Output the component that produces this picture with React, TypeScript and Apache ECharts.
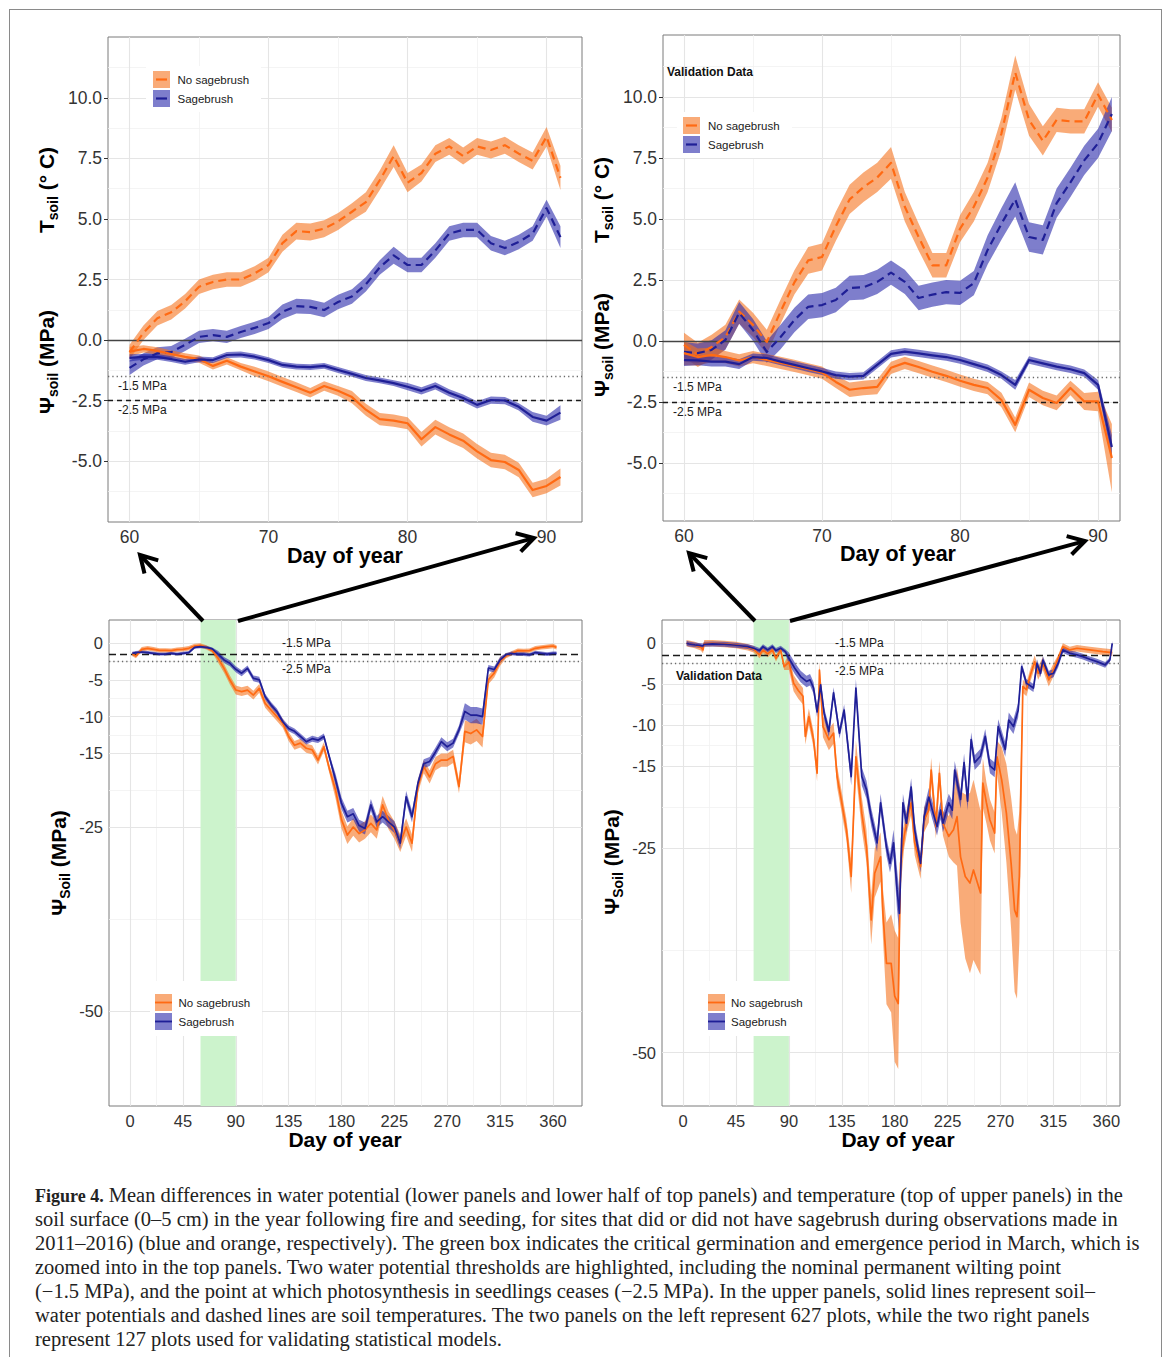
import React, { useEffect, useRef } from 'react';
import * as echarts from 'echarts';

// ---------------- colours ----------------
const ORANGE_LINE = '#FF6A13';
const BLUE_LINE = '#1F1F96';
const ORANGE_BAND = 'rgba(245,115,30,0.6)';
const BLUE_BAND = 'rgba(40,40,170,0.6)';

// ---------------- tick labels ----------------
const TOP_X_TICKS = [60, 70, 80, 90];
const TOP_X_MINOR = [65, 75, 85];
const TOP_Y_TICKS = [-5, -2.5, 0, 2.5, 5, 7.5, 10];
const TOP_Y_MINOR = [-6.25, -3.75, -1.25, 1.25, 3.75, 6.25, 8.75, 11.25];
const BOT_X_TICKS = [0, 45, 90, 135, 180, 225, 270, 315, 360];
const BOT_X_MINOR = [22.5, 67.5, 112.5, 157.5, 202.5, 247.5, 292.5, 337.5];
const BOT_Y_TICKS = [0, -5, -10, -15, -25, -50];
const BOT_Y_MINOR = [-2.5, -7.5, -12.5, -20, -37.5];

// ---------------- top panels (day 60-91) ----------------
const topDays = [60, 61, 62, 63, 64, 65, 66, 67, 68, 69, 70, 71, 72, 73, 74, 75, 76, 77, 78, 79, 80, 81, 82, 83, 84, 85, 86, 87, 88, 89, 90, 91];

// top-left (627 plots)
const tlTempNo = [-0.5, 0.3, 0.9, 1.15, 1.6, 2.2, 2.4, 2.5, 2.5, 2.75, 3.1, 4.0, 4.5, 4.46, 4.6, 4.9, 5.3, 5.7, 6.6, 7.6, 6.5, 6.9, 7.7, 8.0, 7.6, 8.0, 7.85, 8.05, 7.7, 7.4, 8.4, 6.7];
const tlTempNoHw = [0.3, 0.3, 0.3, 0.3, 0.3, 0.3, 0.3, 0.3, 0.3, 0.3, 0.3, 0.35, 0.35, 0.35, 0.35, 0.35, 0.35, 0.4, 0.4, 0.45, 0.4, 0.35, 0.35, 0.35, 0.35, 0.35, 0.35, 0.35, 0.35, 0.35, 0.4, 0.5];
const tlTempSage = [-1.15, -0.8, -0.55, -0.5, -0.2, 0.13, 0.2, 0.13, 0.33, 0.5, 0.7, 1.17, 1.4, 1.37, 1.24, 1.57, 1.8, 2.3, 3.0, 3.5, 3.1, 3.1, 3.7, 4.4, 4.55, 4.55, 4.0, 3.8, 4.05, 4.4, 5.45, 4.25];
const tlTempSageHw = [0.3, 0.25, 0.25, 0.25, 0.25, 0.25, 0.25, 0.25, 0.25, 0.25, 0.25, 0.3, 0.3, 0.3, 0.3, 0.3, 0.3, 0.3, 0.3, 0.35, 0.3, 0.3, 0.3, 0.3, 0.3, 0.3, 0.3, 0.3, 0.3, 0.3, 0.35, 0.45];
const tlWpNo = [-0.48, -0.37, -0.45, -0.58, -0.7, -0.79, -1.07, -0.86, -1.1, -1.3, -1.5, -1.73, -1.95, -2.18, -1.9, -2.1, -2.36, -2.88, -3.27, -3.33, -3.44, -4.1, -3.6, -3.9, -4.16, -4.6, -4.96, -5.04, -5.37, -6.2, -6.03, -5.66];
const tlWpNoHw = [0.2, 0.15, 0.15, 0.15, 0.15, 0.15, 0.15, 0.15, 0.15, 0.2, 0.2, 0.2, 0.2, 0.2, 0.2, 0.2, 0.25, 0.25, 0.25, 0.25, 0.25, 0.3, 0.3, 0.3, 0.3, 0.3, 0.3, 0.3, 0.3, 0.3, 0.3, 0.35];
const tlWpSage = [-0.74, -0.7, -0.7, -0.79, -0.9, -0.8, -0.83, -0.62, -0.6, -0.69, -0.83, -1.03, -1.1, -1.12, -1.07, -1.24, -1.4, -1.57, -1.67, -1.78, -1.93, -2.1, -1.9, -2.18, -2.4, -2.68, -2.48, -2.5, -2.76, -3.18, -3.33, -3.0];
const tlWpSageHw = [0.15, 0.12, 0.12, 0.12, 0.12, 0.12, 0.12, 0.12, 0.12, 0.12, 0.12, 0.12, 0.12, 0.12, 0.12, 0.12, 0.12, 0.12, 0.12, 0.12, 0.15, 0.15, 0.15, 0.15, 0.15, 0.15, 0.15, 0.15, 0.15, 0.2, 0.2, 0.3];

// top-right (validation, 127 plots)
const trTempNo = [-0.16, -0.57, -0.25, 0.16, 1.2, 0.66, -0.04, 1.2, 2.4, 3.3, 3.44, 4.7, 5.8, 6.3, 6.7, 7.3, 5.5, 4.26, 3.1, 3.1, 4.6, 5.5, 6.7, 8.5, 11.0, 9.06, 8.2, 9.06, 9.0, 9.0, 10.1, 9.06];
const trTempNoHw = [0.5, 0.5, 0.5, 0.5, 0.5, 0.5, 0.5, 0.5, 0.5, 0.55, 0.55, 0.6, 0.6, 0.6, 0.6, 0.65, 0.6, 0.55, 0.5, 0.5, 0.55, 0.6, 0.6, 0.65, 0.7, 0.65, 0.6, 0.5, 0.5, 0.5, 0.5, 0.5];
const trTempSage = [-0.45, -0.5, -0.37, 0.04, 1.15, 0.45, -0.45, 0.16, 0.86, 1.4, 1.47, 1.68, 2.17, 2.2, 2.42, 2.8, 2.42, 1.76, 1.9, 2.0, 1.97, 2.37, 3.73, 4.8, 5.8, 4.26, 4.14, 5.65, 6.5, 7.4, 8.1, 9.3];
const trTempSageHw = [0.4, 0.4, 0.4, 0.4, 0.45, 0.45, 0.45, 0.5, 0.5, 0.5, 0.5, 0.5, 0.5, 0.5, 0.5, 0.5, 0.5, 0.5, 0.5, 0.5, 0.5, 0.5, 0.6, 0.65, 0.7, 0.6, 0.6, 0.6, 0.6, 0.6, 0.6, 0.7];
const trWpNo = [-0.5, -0.66, -0.57, -0.66, -0.8, -0.66, -0.78, -0.9, -1.02, -1.16, -1.3, -1.68, -2.0, -1.93, -1.88, -1.1, -0.9, -1.07, -1.26, -1.43, -1.63, -1.8, -1.93, -2.42, -3.44, -2.0, -2.34, -2.54, -1.93, -2.48, -2.48, -4.8];
const trWpNoHw = [0.5, 0.35, 0.3, 0.25, 0.25, 0.25, 0.25, 0.25, 0.25, 0.25, 0.25, 0.25, 0.3, 0.3, 0.3, 0.25, 0.25, 0.25, 0.25, 0.25, 0.25, 0.25, 0.25, 0.3, 0.3, 0.3, 0.3, 0.3, 0.3, 0.35, 0.4, 1.4];
const trWpSage = [-0.78, -0.8, -0.85, -0.85, -0.95, -0.66, -0.7, -0.85, -0.98, -1.12, -1.25, -1.4, -1.46, -1.43, -0.98, -0.53, -0.44, -0.51, -0.59, -0.66, -0.78, -0.95, -1.12, -1.4, -1.8, -0.78, -0.92, -1.05, -1.16, -1.32, -1.8, -4.35];
const trWpSageHw = [0.25, 0.2, 0.2, 0.2, 0.2, 0.15, 0.15, 0.15, 0.15, 0.15, 0.15, 0.15, 0.15, 0.15, 0.15, 0.15, 0.15, 0.15, 0.15, 0.15, 0.15, 0.15, 0.15, 0.15, 0.2, 0.15, 0.15, 0.15, 0.15, 0.15, 0.2, 0.5];

// ---------------- bottom-left (whole year, 627 plots) ----------------
const blDays = [2, 5, 10, 15, 20, 25, 30, 35, 40, 45, 50, 55, 60, 65, 70, 75, 80, 85, 90, 95, 100, 105, 110, 115, 120, 125, 130, 135, 140, 145, 150, 155, 160, 165, 170, 175, 180, 185, 190, 195, 200, 205, 210, 215, 220, 225, 230, 235, 240, 245, 250, 255, 260, 265, 270, 275, 280, 285, 290, 295, 300, 305, 310, 315, 320, 325, 330, 335, 340, 345, 350, 355, 360, 363];
const blNo = [-1.5, -1.77, -0.86, -0.72, -0.86, -1.0, -1.0, -1.04, -0.9, -0.86, -0.72, -0.41, -0.32, -0.59, -1.04, -2.08, -3.44, -5.03, -6.39, -6.6, -6.4, -7.07, -6.16, -8.2, -9.1, -10.0, -10.9, -12.7, -13.9, -13.6, -14.3, -14.5, -15.9, -14.1, -17.3, -20.0, -24.0, -26.1, -25.0, -25.9, -25.4, -24.5, -25.4, -22.0, -24.1, -25.4, -27.2, -25.0, -27.2, -19.5, -16.8, -18.2, -16.4, -15.9, -15.9, -15.4, -19.5, -12.0, -12.3, -11.8, -12.7, -5.0, -4.1, -2.5, -1.77, -1.4, -1.04, -1.08, -1.04, -0.72, -0.59, -0.5, -0.41, -0.59];
const blNoHw = [0.3, 0.3, 0.3, 0.3, 0.3, 0.3, 0.3, 0.3, 0.3, 0.3, 0.3, 0.3, 0.3, 0.3, 0.3, 0.6, 0.6, 0.6, 0.6, 0.6, 0.6, 0.6, 0.6, 0.6, 0.6, 0.6, 0.6, 0.6, 0.6, 0.6, 0.6, 0.6, 0.6, 0.6, 0.6, 1.2, 1.2, 1.2, 1.2, 1.2, 1.2, 1.2, 1.2, 1.2, 1.2, 1.2, 1.2, 1.2, 1.2, 0.9, 0.9, 0.9, 0.9, 0.9, 0.9, 0.9, 0.9, 1.5, 1.5, 1.5, 1.5, 0.6, 0.6, 0.6, 0.3, 0.3, 0.3, 0.3, 0.3, 0.3, 0.3, 0.3, 0.3, 0.3];
const blSage = [-1.4, -1.3, -1.22, -1.3, -1.4, -1.5, -1.5, -1.4, -1.5, -1.4, -1.3, -0.59, -0.5, -0.59, -0.8, -1.5, -2.3, -2.76, -3.57, -4.1, -3.44, -4.8, -5.0, -7.3, -8.4, -9.3, -10.7, -11.6, -12.0, -12.7, -13.4, -13.0, -13.2, -12.7, -15.7, -18.6, -21.8, -23.6, -23.2, -24.8, -25.2, -22.0, -24.3, -23.6, -24.3, -25.0, -27.2, -20.9, -23.6, -19.1, -16.4, -16.1, -14.8, -13.4, -14.1, -13.6, -11.8, -9.3, -9.8, -9.8, -10.0, -3.4, -3.6, -2.3, -1.6, -1.4, -1.5, -1.5, -1.6, -1.3, -1.4, -1.5, -1.4, -1.4];
const blSageHw = [0.2, 0.2, 0.2, 0.2, 0.2, 0.2, 0.2, 0.2, 0.2, 0.2, 0.2, 0.2, 0.2, 0.2, 0.2, 0.4, 0.4, 0.4, 0.4, 0.4, 0.4, 0.4, 0.4, 0.4, 0.4, 0.4, 0.4, 0.4, 0.4, 0.4, 0.4, 0.4, 0.4, 0.4, 0.4, 0.8, 0.8, 0.8, 0.8, 0.8, 0.8, 0.8, 0.8, 0.8, 0.8, 0.8, 0.8, 0.8, 0.8, 0.6, 0.6, 0.6, 0.6, 0.6, 0.6, 0.6, 0.6, 1.1, 1.1, 1.1, 1.1, 0.4, 0.4, 0.4, 0.25, 0.25, 0.25, 0.25, 0.25, 0.25, 0.25, 0.25, 0.25, 0.25];

// ---------------- bottom-right (whole year, validation) ----------------
const brSageDays = [3, 5, 10, 15, 17, 18, 25, 35, 45, 55, 60, 65, 68, 72, 76, 79, 83, 87, 90, 95, 100, 105, 108, 111, 114, 117, 120, 124, 128, 133, 137, 143, 147, 152, 156, 160, 165, 168, 173, 176, 179, 182, 184, 187, 190, 194, 197, 202, 205, 209, 212, 216, 219, 221, 226, 229, 231, 236, 239, 242, 245, 248, 253, 257, 261, 265, 268, 274, 277, 281, 285, 288, 292, 298, 301, 304, 306, 311, 315, 319, 323, 329, 335, 340, 346, 352, 359, 363, 365];
const brSage = [-0.04, -0.12, -0.24, -0.33, -0.37, -0.16, -0.12, -0.16, -0.28, -0.45, -0.65, -0.93, -0.45, -0.85, -0.45, -0.93, -0.65, -1.06, -1.87, -3.09, -4.1, -4.7, -4.5, -5.5, -8.4, -5.1, -8.6, -10.8, -6.1, -11.0, -8.2, -16.3, -5.5, -16.3, -17.9, -21.2, -24.4, -19.5, -24.9, -26.9, -24.4, -30.1, -33.0, -19.5, -22.0, -17.6, -22.8, -26.9, -21.2, -18.8, -20.4, -22.4, -20.4, -22.0, -19.5, -20.4, -15.5, -19.1, -14.6, -19.3, -11.8, -14.6, -13.8, -11.4, -15.0, -15.5, -10.2, -13.0, -9.4, -10.2, -8.2, -2.9, -4.9, -5.5, -2.5, -3.7, -2.1, -3.9, -3.7, -2.5, -0.85, -1.26, -1.46, -1.67, -1.99, -2.28, -2.68, -2.07, -0.04];
const brSageHw = [0.3, 0.3, 0.3, 0.3, 0.3, 0.3, 0.3, 0.3, 0.3, 0.3, 0.3, 0.3, 0.3, 0.3, 0.3, 0.3, 0.3, 0.3, 0.7, 0.7, 0.7, 0.7, 0.7, 0.7, 0.7, 0.7, 0.7, 0.7, 0.7, 0.7, 0.7, 1.1, 1.1, 1.1, 1.1, 1.1, 1.1, 1.1, 1.1, 1.1, 1.6, 2.5, 2.5, 1.1, 1.1, 1.1, 1.1, 1.1, 1.1, 1.1, 1.1, 1.1, 1.1, 1.1, 1.1, 1.1, 1.1, 1.1, 1.1, 1.1, 0.9, 0.9, 0.9, 0.9, 0.9, 0.9, 0.9, 0.9, 0.9, 0.9, 0.9, 0.5, 0.5, 0.5, 0.5, 0.5, 0.5, 0.5, 0.5, 0.5, 0.35, 0.35, 0.35, 0.35, 0.35, 0.35, 0.35, 0.3, 0.3];
const brNoDays = [3, 10, 15, 17, 18, 25, 35, 45, 55, 60, 65, 68, 72, 76, 79, 83, 86, 90, 94, 98, 102, 104, 107, 111, 114, 116, 119, 124, 128, 131, 134, 139, 143, 147, 152, 156, 160, 163, 168, 170, 173, 177, 180, 183, 185, 188, 191, 194, 197, 202, 205, 209, 211, 215, 218, 221, 226, 230, 233, 236, 240, 244, 247, 253, 255, 258, 261, 265, 267, 271, 275, 279, 282, 284, 286, 289, 292, 295, 299, 302, 306, 311, 315, 319, 323, 329, 335, 346, 357, 365];
const brNo = [-0.04, -0.24, -0.53, -0.85, -0.04, -0.04, -0.12, -0.24, -0.53, -0.77, -1.46, -0.85, -1.34, -0.85, -1.87, -0.85, -2.9, -2.3, -4.9, -5.8, -6.5, -11.4, -9.0, -11.8, -15.9, -3.3, -10.2, -11.8, -11.0, -16.3, -18.7, -22.8, -28.5, -13.9, -20.8, -24.8, -33.8, -28.1, -26.1, -33.0, -39.1, -39.1, -43.1, -44.0, -26.9, -23.6, -21.2, -19.5, -24.4, -27.3, -21.6, -20.4, -15.5, -22.4, -15.9, -22.0, -23.6, -22.8, -21.2, -26.1, -28.5, -29.3, -27.7, -30.5, -17.1, -19.5, -21.6, -23.2, -13.9, -16.7, -20.8, -26.9, -32.6, -33.4, -28.5, -5.3, -5.7, -4.1, -2.3, -3.7, -2.5, -4.5, -3.3, -1.87, -0.45, -0.85, -0.65, -0.85, -1.06, -1.18];
const brNoHw = [0.4, 0.4, 0.4, 0.4, 0.4, 0.4, 0.4, 0.4, 0.4, 0.4, 0.4, 0.4, 0.4, 0.4, 0.4, 0.4, 0.4, 1.0, 1.0, 1.0, 1.0, 1.0, 1.0, 1.0, 1.0, 1.0, 1.3, 1.3, 1.3, 1.3, 1.3, 1.3, 2.0, 2.0, 2.0, 2.0, 3.0, 3.0, 3.0, 3.0, 5.0, 6.0, 8.0, 8.0, 3.0, 1.5, 1.5, 1.5, 1.5, 1.5, 1.5, 1.5, 1.5, 1.5, 1.5, 1.5, 2.5, 4.0, 6.0, 8.0, 10.0, 11.0, 11.0, 10.0, 3.0, 2.5, 2.5, 2.5, 2.0, 4.0, 6.0, 8.0, 10.0, 10.0, 8.0, 0.8, 0.8, 0.8, 0.8, 0.8, 0.8, 0.8, 0.8, 0.4, 0.4, 0.4, 0.4, 0.4, 0.4, 0.4];

// ---------------- layout helpers (page coords -> chart coords) ----------------
const OFF = 8;
const X = (v: number) => v - OFF;
const FONT = 'Liberation Sans';

function bandSeries(idx: number, days: number[], vals: number[], hws: number[], fill: string) {
  const pts = days.map((d, i) => [d, vals[i] - hws[i], vals[i] + hws[i]]);
  return {
    type: 'custom',
    xAxisIndex: idx,
    yAxisIndex: idx,
    z: 3,
    silent: true,
    data: pts,
    encode: { x: 0, y: [1, 2] },
    renderItem: (params: any, api: any) => {
      if (params.dataIndex !== 0) return null;
      const up = pts.map((p) => api.coord([p[0], p[2]]));
      const lo = pts.map((p) => api.coord([p[0], p[1]])).reverse();
      const cs = params.coordSys;
      return {
        type: 'polygon',
        shape: { points: up.concat(lo) },
        style: { fill },
        clipPath: { type: 'rect', shape: { x: cs.x, y: cs.y, width: cs.width, height: cs.height } },
      };
    },
  };
}

function lineSeries(idx: number, days: number[], vals: number[], color: string, width: number, dashed: boolean) {
  return {
    type: 'line',
    xAxisIndex: idx,
    yAxisIndex: idx,
    z: 5,
    silent: true,
    showSymbol: false,
    symbol: 'none',
    data: days.map((d, i) => [d, vals[i]]),
    lineStyle: { color, width, type: dashed ? [8, 5] : 'solid', cap: 'butt', join: 'round' },
  };
}

function gridLines(idx: number, xMaj: number[], xMin: number[], yMaj: number[], yMin: number[], green: boolean) {
  const maj = { color: '#E5E5E5', width: 1.1, type: 'solid' };
  const min = { color: '#F1F1F1', width: 0.8, type: 'solid' };
  const data: any[] = [];
  xMin.forEach((v) => data.push({ xAxis: v, lineStyle: min }));
  yMin.forEach((v) => data.push({ yAxis: v, lineStyle: min }));
  xMaj.forEach((v) => data.push({ xAxis: v, lineStyle: maj }));
  yMaj.forEach((v) => data.push({ yAxis: v, lineStyle: maj }));
  const s: any = {
    type: 'line',
    xAxisIndex: idx,
    yAxisIndex: idx,
    data: [],
    silent: true,
    markLine: { silent: true, symbol: ['none', 'none'], label: { show: false }, z: 1, animation: false, data },
  };
  if (green) {
    s.markArea = {
      silent: true,
      z: 2,
      itemStyle: { color: '#CCF3CC', opacity: 1 },
      label: { show: false },
      data: [[{ xAxis: 60 }, { xAxis: 90 }]],
    };
  }
  return s;
}

function thresholdLines(idx: number, top: boolean) {
  const dash = { color: '#1a1a1a', width: 1.3, type: [5, 4] };
  const dot = { color: '#6a6a6a', width: 1.3, type: [1.3, 3] };
  const data: any[] = [];
  if (top) {
    data.push({ yAxis: 0, lineStyle: { color: '#444', width: 1.4, type: 'solid' } });
    data.push({ yAxis: -1.5, lineStyle: dot });
    data.push({ yAxis: -2.5, lineStyle: dash });
  } else {
    data.push({ yAxis: -1.5, lineStyle: { ...dash, type: [7, 4] } });
    data.push({ yAxis: -2.5, lineStyle: dot });
  }
  return {
    type: 'line',
    xAxisIndex: idx,
    yAxisIndex: idx,
    data: [],
    silent: true,
    markLine: { silent: true, symbol: ['none', 'none'], label: { show: false }, z: 4, animation: false, data },
  };
}

function xAxis(idx: number, min: number, max: number, ticks: number[], fontSize: number) {
  return {
    type: 'value',
    gridIndex: idx,
    min,
    max,
    axisLine: { show: false },
    axisTick: { show: true, length: 4, lineStyle: { color: '#333', width: 1 }, customValues: ticks },
    axisLabel: { customValues: ticks, fontFamily: FONT, fontSize, color: '#333', margin: 6, formatter: (v: number) => String(v) },
    splitLine: { show: false },
  };
}

function yAxis(idx: number, min: number, max: number, ticks: number[], fontSize: number, fixed: boolean) {
  return {
    type: 'value',
    gridIndex: idx,
    min,
    max,
    axisLine: { show: false },
    axisTick: { show: true, length: 4, lineStyle: { color: '#333', width: 1 }, customValues: ticks },
    axisLabel: {
      customValues: ticks,
      fontFamily: FONT,
      fontSize,
      color: '#333',
      margin: 6,
      formatter: (v: number) => (fixed ? v.toFixed(1) : String(v)),
    },
    splitLine: { show: false },
  };
}

function txt(x: number, y: number, text: string, size: number, opts: any = {}) {
  return {
    type: 'text',
    x: X(x),
    y: X(y),
    z: 110,
    silent: true,
    style: {
      text,
      fontFamily: FONT,
      fontSize: size,
      fontWeight: opts.bold ? 'bold' : 'normal',
      fill: opts.fill || '#1a1a1a',
      align: opts.align || 'left',
      verticalAlign: 'middle',
    },
  };
}

function yTitle(x: number, y: number, main: string, sub: string, rest: string) {
  return {
    type: 'text',
    x: X(x),
    y: X(y),
    rotation: Math.PI / 2,
    z: 110,
    silent: true,
    style: {
      text: `{b|${main}}{s|${sub}}{b|${rest}}`,
      align: 'center',
      verticalAlign: 'middle',
      rich: {
        b: { fontFamily: FONT, fontSize: 21, fontWeight: 'bold', fill: '#000', lineHeight: 24, verticalAlign: 'top' },
        s: { fontFamily: FONT, fontSize: 14, fontWeight: 'bold', fill: '#000', lineHeight: 14, padding: [14, 0, 0, 0], verticalAlign: 'bottom' },
      },
    },
  };
}

function legend(bg: number[], kx: number, ky1: number, ky2: number, tx: number, dashedKey: boolean) {
  const els: any[] = [];
  els.push({ type: 'rect', z: 100, silent: true, shape: { x: X(bg[0]), y: X(bg[1]), width: bg[2], height: bg[3] }, style: { fill: '#fff' } });
  const items = [
    { y: ky1, band: ORANGE_BAND, line: ORANGE_LINE, label: 'No sagebrush' },
    { y: ky2, band: BLUE_BAND, line: BLUE_LINE, label: 'Sagebrush' },
  ];
  items.forEach((it) => {
    els.push({ type: 'rect', z: 101, silent: true, shape: { x: X(kx), y: X(it.y), width: 17, height: 17 }, style: { fill: it.band } });
    const lx1 = dashedKey ? kx + 3 : kx;
    const lx2 = dashedKey ? kx + 14 : kx + 17;
    els.push({ type: 'line', z: 102, silent: true, shape: { x1: X(lx1), y1: X(it.y + 8.5), x2: X(lx2), y2: X(it.y + 8.5) }, style: { stroke: it.line, lineWidth: dashedKey ? 2.2 : 1.8 } });
    els.push(txt(tx, it.y + 9, it.label, 11.5, { fill: '#1a1a1a' }));
  });
  return els;
}

function arrow(x1: number, y1: number, x2: number, y2: number) {
  const dx = x2 - x1;
  const dy = y2 - y1;
  const len = Math.sqrt(dx * dx + dy * dy);
  const ux = dx / len;
  const uy = dy / len;
  const L = 19;
  const a = Math.PI / 6;
  const r1x = ux * Math.cos(a) - uy * Math.sin(a);
  const r1y = ux * Math.sin(a) + uy * Math.cos(a);
  const r2x = ux * Math.cos(-a) - uy * Math.sin(-a);
  const r2y = ux * Math.sin(-a) + uy * Math.cos(-a);
  return [
    { type: 'line', z: 120, silent: true, shape: { x1: X(x1), y1: X(y1), x2: X(x2 - ux * 1.5), y2: X(y2 - uy * 1.5) }, style: { stroke: '#000', lineWidth: 4 } },
    {
      type: 'polyline',
      z: 120,
      silent: true,
      shape: { points: [[X(x2 - r1x * L), X(y2 - r1y * L)], [X(x2), X(y2)], [X(x2 - r2x * L), X(y2 - r2y * L)]] },
      style: { stroke: '#000', lineWidth: 4, fill: null, lineJoin: 'miter' },
    },
  ];
}

function buildOption() {
  const grid = (l: number, t: number, r: number, b: number) => ({
    left: X(l),
    top: X(t),
    width: r - l,
    height: b - t,
    show: true,
    borderColor: '#7a7a7a',
    borderWidth: 1,
    backgroundColor: 'transparent',
    containLabel: false,
  });

  const series: any[] = [
    gridLines(0, TOP_X_TICKS, TOP_X_MINOR, TOP_Y_TICKS, TOP_Y_MINOR, false),
    gridLines(1, TOP_X_TICKS, TOP_X_MINOR, TOP_Y_TICKS, TOP_Y_MINOR, false),
    gridLines(2, BOT_X_TICKS, BOT_X_MINOR, BOT_Y_TICKS, BOT_Y_MINOR, true),
    gridLines(3, BOT_X_TICKS, BOT_X_MINOR, BOT_Y_TICKS, BOT_Y_MINOR, true),
    thresholdLines(0, true),
    thresholdLines(1, true),
    thresholdLines(2, false),
    thresholdLines(3, false),
    // top-left
    bandSeries(0, topDays, tlTempNo, tlTempNoHw, ORANGE_BAND),
    bandSeries(0, topDays, tlTempSage, tlTempSageHw, BLUE_BAND),
    bandSeries(0, topDays, tlWpNo, tlWpNoHw, ORANGE_BAND),
    bandSeries(0, topDays, tlWpSage, tlWpSageHw, BLUE_BAND),
    lineSeries(0, topDays, tlTempNo, ORANGE_LINE, 2.2, true),
    lineSeries(0, topDays, tlTempSage, BLUE_LINE, 2.2, true),
    lineSeries(0, topDays, tlWpNo, ORANGE_LINE, 2.2, false),
    lineSeries(0, topDays, tlWpSage, BLUE_LINE, 2.2, false),
    // top-right
    bandSeries(1, topDays, trTempNo, trTempNoHw, ORANGE_BAND),
    bandSeries(1, topDays, trTempSage, trTempSageHw, BLUE_BAND),
    bandSeries(1, topDays, trWpNo, trWpNoHw, ORANGE_BAND),
    bandSeries(1, topDays, trWpSage, trWpSageHw, BLUE_BAND),
    lineSeries(1, topDays, trTempNo, ORANGE_LINE, 2.2, true),
    lineSeries(1, topDays, trTempSage, BLUE_LINE, 2.2, true),
    lineSeries(1, topDays, trWpNo, ORANGE_LINE, 2.2, false),
    lineSeries(1, topDays, trWpSage, BLUE_LINE, 2.2, false),
    // bottom-left
    bandSeries(2, blDays, blNo, blNoHw, ORANGE_BAND),
    bandSeries(2, blDays, blSage, blSageHw, BLUE_BAND),
    lineSeries(2, blDays, blNo, ORANGE_LINE, 1.7, false),
    lineSeries(2, blDays, blSage, BLUE_LINE, 1.7, false),
    // bottom-right
    bandSeries(3, brNoDays, brNo, brNoHw, ORANGE_BAND),
    bandSeries(3, brSageDays, brSage, brSageHw, BLUE_BAND),
    lineSeries(3, brNoDays, brNo, ORANGE_LINE, 1.7, false),
    lineSeries(3, brSageDays, brSage, BLUE_LINE, 1.7, false),
  ];

  const graphic: any[] = [
    // axis titles
    txt(345, 556, 'Day of year', 21.5, { bold: true, align: 'center', fill: '#000' }),
    txt(898, 554, 'Day of year', 21.5, { bold: true, align: 'center', fill: '#000' }),
    txt(345, 1139, 'Day of year', 21, { bold: true, align: 'center', fill: '#000' }),
    txt(898, 1139, 'Day of year', 21, { bold: true, align: 'center', fill: '#000' }),
    yTitle(48, 190, 'T', 'soil', ' (° C)'),
    yTitle(48, 362, 'Ψ', 'soil', ' (MPa)'),
    yTitle(603, 200, 'T', 'soil', ' (° C)'),
    yTitle(603, 345, 'Ψ', 'soil', ' (MPa)'),
    yTitle(60, 863, 'Ψ', 'Soil', ' (MPa)'),
    yTitle(613, 862, 'Ψ', 'Soil', ' (MPa)'),
    // threshold labels
    txt(118, 386, '-1.5 MPa', 12),
    txt(118, 410, '-2.5 MPa', 12),
    txt(673, 387, '-1.5 MPa', 12),
    txt(673, 412, '-2.5 MPa', 12),
    txt(282, 643, '-1.5 MPa', 12),
    txt(282, 669, '-2.5 MPa', 12),
    txt(835, 643, '-1.5 MPa', 12),
    txt(835, 671, '-2.5 MPa', 12),
    txt(667, 72, 'Validation Data', 12, { bold: true, fill: '#111' }),
    txt(676, 676, 'Validation Data', 12, { bold: true, fill: '#111' }),
    ...legend([146, 66, 115, 46], 153, 71, 90, 177.5, true),
    ...legend([677, 112, 115, 46], 683, 117, 136, 708, true),
    ...legend([150, 981, 112, 55], 155, 994, 1013, 178.5, false),
    ...legend([700, 981, 112, 55], 708, 994, 1013, 731, false),
    ...arrow(203, 621, 140, 555),
    ...arrow(238, 621, 534, 538),
    ...arrow(755, 621, 689, 553),
    ...arrow(790, 621, 1085, 541),
  ];

  return {
    animation: false,
    backgroundColor: 'transparent',
    grid: [grid(108, 37, 582, 522), grid(663, 35, 1120, 521), grid(109, 620, 582, 1106), grid(662, 620, 1120, 1106)],
    xAxis: [
      xAxis(0, 58.45, 92.55, TOP_X_TICKS, 17.5),
      xAxis(1, 58.48, 91.59, TOP_X_TICKS, 17.5),
      xAxis(2, -17.9, 384.7, BOT_X_TICKS, 16.5),
      xAxis(3, -17.9, 371.6, BOT_X_TICKS, 16.5),
    ],
    yAxis: [
      yAxis(0, -7.52, 12.52, TOP_Y_TICKS, 17.5, true),
      yAxis(1, -7.38, 12.54, TOP_Y_TICKS, 17.5, true),
      yAxis(2, -62.9, 3.125, BOT_Y_TICKS, 16.5, false),
      yAxis(3, -56.5, 2.8, BOT_Y_TICKS, 16.5, false),
    ],
    series,
    graphic,
  };
}

const CAPTION_REST_1 = ' Mean differences in water potential (lower panels and lower half of top panels) and temperature (top of upper panels) in the';
const CAPTION_LINES = [
  'soil surface (0–5 cm) in the year following fire and seeding, for sites that did or did not have sagebrush during observations made in',
  '2011–2016) (blue and orange, respectively). The green box indicates the critical germination and emergence period in March, which is',
  'zoomed into in the top panels. Two water potential thresholds are highlighted, including the nominal permanent wilting point',
  '(−1.5 MPa), and the point at which photosynthesis in seedlings ceases (−2.5 MPa). In the upper panels, solid lines represent soil–',
  'water potentials and dashed lines are soil temperatures. The two panels on the left represent 627 plots, while the two right panels',
  'represent 127 plots used for validating statistical models.',
];

export default function App() {
  const ref = useRef<HTMLDivElement>(null);
  useEffect(() => {
    if (!ref.current) return;
    const chart = echarts.init(ref.current, null, { renderer: 'svg' });
    chart.setOption(buildOption() as any);
    return () => chart.dispose();
  }, []);

  const capStyle: React.CSSProperties = {
    position: 'absolute',
    left: 27,
    fontFamily: '"Liberation Serif", serif',
    fontSize: 20.5,
    lineHeight: '24px',
    color: '#222',
    whiteSpace: 'nowrap',
  };

  return (
    <div style={{ position: 'relative', width: 1154, height: 1349, overflow: 'hidden' }}>
      <div
        style={{
          position: 'absolute',
          left: 1,
          top: 1,
          width: 1153,
          height: 1420,
          border: '1px solid #8a8a8a',
          boxSizing: 'border-box',
        }}
      />
      <div ref={ref} style={{ position: 'absolute', left: 0, top: 0, width: 1154, height: 1160 }} />
      <div style={{ ...capStyle, top: 1175 }}>
        <b style={{ fontSize: 18 }}>Figure 4.</b>
        {CAPTION_REST_1}
      </div>
      {CAPTION_LINES.map((l, i) => (
        <div key={i} style={{ ...capStyle, top: 1175 + 24 * (i + 1) }}>
          {l}
        </div>
      ))}
    </div>
  );
}
